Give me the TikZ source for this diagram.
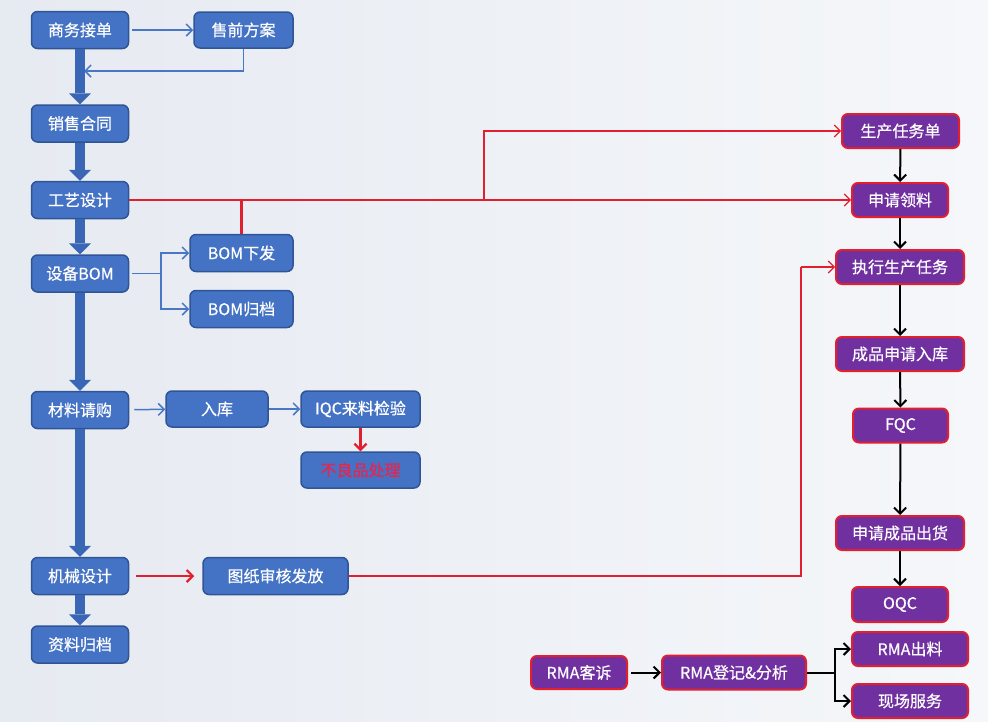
\documentclass[tikz,border=0pt]{standalone}
\usepackage{fontspec}
\setmainfont{Noto Sans CJK SC}
\newfontfamily\boxfont[FakeBold=0.6]{Noto Sans CJK SC}
\usetikzlibrary{arrows.meta}
\definecolor{boxblue}{HTML}{4472C4}
\definecolor{boxedge}{HTML}{2F5597}
\definecolor{boxpurple}{HTML}{7030A0}
\definecolor{edgered}{HTML}{E21F2F}
\definecolor{textred}{HTML}{E8254F}
\definecolor{lnblue}{HTML}{4877C6}
\definecolor{fatblue}{HTML}{3A66B6}
\definecolor{bgleft}{HTML}{E6EAF1}
\definecolor{bgright}{HTML}{F5F7FA}

\begin{document}
\begin{tikzpicture}[x=1pt,y=-1pt,
  blu/.style={draw=boxedge,fill=boxblue,line width=1.5pt,rounded corners=6pt,text=white,
    font=\boxfont\fontsize{16}{18}\selectfont,minimum height=37pt,inner sep=0pt},
  pur/.style={draw=edgered,fill=boxpurple,line width=2pt,rounded corners=6pt,text=white,
    font=\boxfont\fontsize{16}{18}\selectfont,minimum height=34pt,inner sep=0pt},
  fat/.style={draw=fatblue,line width=10pt,-{Triangle[width=22pt,length=11pt,line width=0pt]}},
  bl/.style={draw=lnblue,line width=1.5pt},
  blarr/.style={bl,-{Straight Barb[length=6pt,width=12pt]}},
  rl/.style={draw=edgered,line width=1.1pt},
  rlarr/.style={rl,-{Straight Barb[length=6pt,width=12pt]}},
  rlw/.style={draw=edgered,line width=2.2pt,-{Straight Barb[length=6pt,width=12pt]}},
  blk/.style={draw=black,line width=2pt},
  blkarr/.style={blk,-{Straight Barb[length=6pt,width=12pt]}}]

\shade[left color=bgleft,right color=bgright] (0,0) rectangle (988,721);

\node[blu,minimum width=97pt] (sw) at (80,30) {商务接单};
\node[blu,minimum width=99pt,minimum height=36pt] (sq) at (243.5,30) {售前方案};
\node[blu,minimum width=97pt] (xs) at (80,123.5) {销售合同};
\node[blu,minimum width=97pt] (gy) at (80,200) {工艺设计};
\node[blu,minimum width=97pt] (sb) at (80,273.5) {设备BOM};
\node[blu,minimum width=103pt] (bx) at (241.5,253) {BOM下发};
\node[blu,minimum width=103pt] (bg) at (241.5,309) {BOM归档};
\node[blu,minimum width=97pt] (cl) at (80,410) {材料请购};
\node[blu,minimum width=102pt,minimum height=36pt] (rk) at (217,409) {入库};
\node[blu,minimum width=119pt,minimum height=36pt] (iqc) at (360.5,409) {IQC来料检验};
\node[blu,minimum width=119pt,minimum height=36pt,text=textred] (blp) at (360.5,470) {不良品处理};
\node[blu,minimum width=97pt] (jx) at (80,576) {机械设计};
\node[blu,minimum width=145pt] (tz) at (275.5,576) {图纸审核发放};
\node[blu,minimum width=97pt] (zl) at (80,644.5) {资料归档};

\node[pur,minimum width=117pt] (scd) at (900.5,131) {生产任务单};
\node[pur,minimum width=96pt] (sl) at (900,200) {申请领料};
\node[pur,minimum width=128pt] (zx) at (900,267) {执行生产任务};
\node[pur,minimum width=128pt] (cprk) at (900,354) {成品申请入库};
\node[pur,minimum width=95pt] (fqc) at (900.5,425.5) {FQC};
\node[pur,minimum width=128pt] (cpch) at (900,533) {申请成品出货};
\node[pur,minimum width=96pt,minimum height=35pt] (oqc) at (900,604.5) {OQC};
\node[pur,minimum width=116pt] (rmo) at (910,649) {RMA出料};
\node[pur,minimum width=116pt] (xc) at (910,701) {现场服务};
\node[pur,minimum width=96pt,minimum height=33pt] (rkc) at (579,672.5) {RMA客诉};
\node[pur,minimum width=144pt] (rdj) at (734,672.5) {RMA登记\&分析};

\coordinate (ret) at (84,71);
\coordinate (sbj) at (161,273.5);
\coordinate (rj) at (484,200);
\coordinate (tzj) at (801,267);
\coordinate (rmj) at (835,672.5);

\draw[blarr,shorten <=3pt] (sw) -- (sq);
\draw[blarr] (sq) |- (ret);
\draw[fat] (sw) -- (xs);
\draw[fat] (xs) -- (gy);
\draw[fat] (gy) -- (sb);
\draw[fat] (sb) -- (cl);
\draw[fat] (cl) -- (jx);
\draw[fat] (jx) -- (zl);
\draw[bl,shorten <=3pt] (sb) -- (sbj);
\draw[blarr] (sbj) |- (bx);
\draw[blarr] (sbj) |- (bg);
\draw[blarr,shorten <=5pt] (cl) -- (rk);
\draw[blarr] (rk) -- (iqc);
\draw[rlw] (iqc) -- (blp);
\draw[rlw,shorten <=7pt,shorten >=8pt] (jx) -- (tz);

\draw[rlarr] (gy) -- (sl);
\draw[rlarr] (rj) |- (scd);
\draw[rlw,-] (bx) -- (bx |- gy);
\draw[rl] (tz) -| (tzj);
\draw[rlarr] (tzj) -- (zx);

\draw[blkarr] (scd) -- (sl);
\draw[blkarr] (sl) -- (zx);
\draw[blkarr] (zx) -- (cprk);
\draw[blkarr] (cprk) -- (fqc);
\draw[blkarr] (fqc) -- (cpch);
\draw[blkarr] (cpch) -- (oqc);
\draw[blkarr,shorten <=3pt] (rkc) -- (rdj);
\draw[blk] (rdj) -- (rmj);
\draw[blkarr] (rmj) |- (rmo);
\draw[blkarr] (rmj) |- (xc);

\end{tikzpicture}
\end{document}
